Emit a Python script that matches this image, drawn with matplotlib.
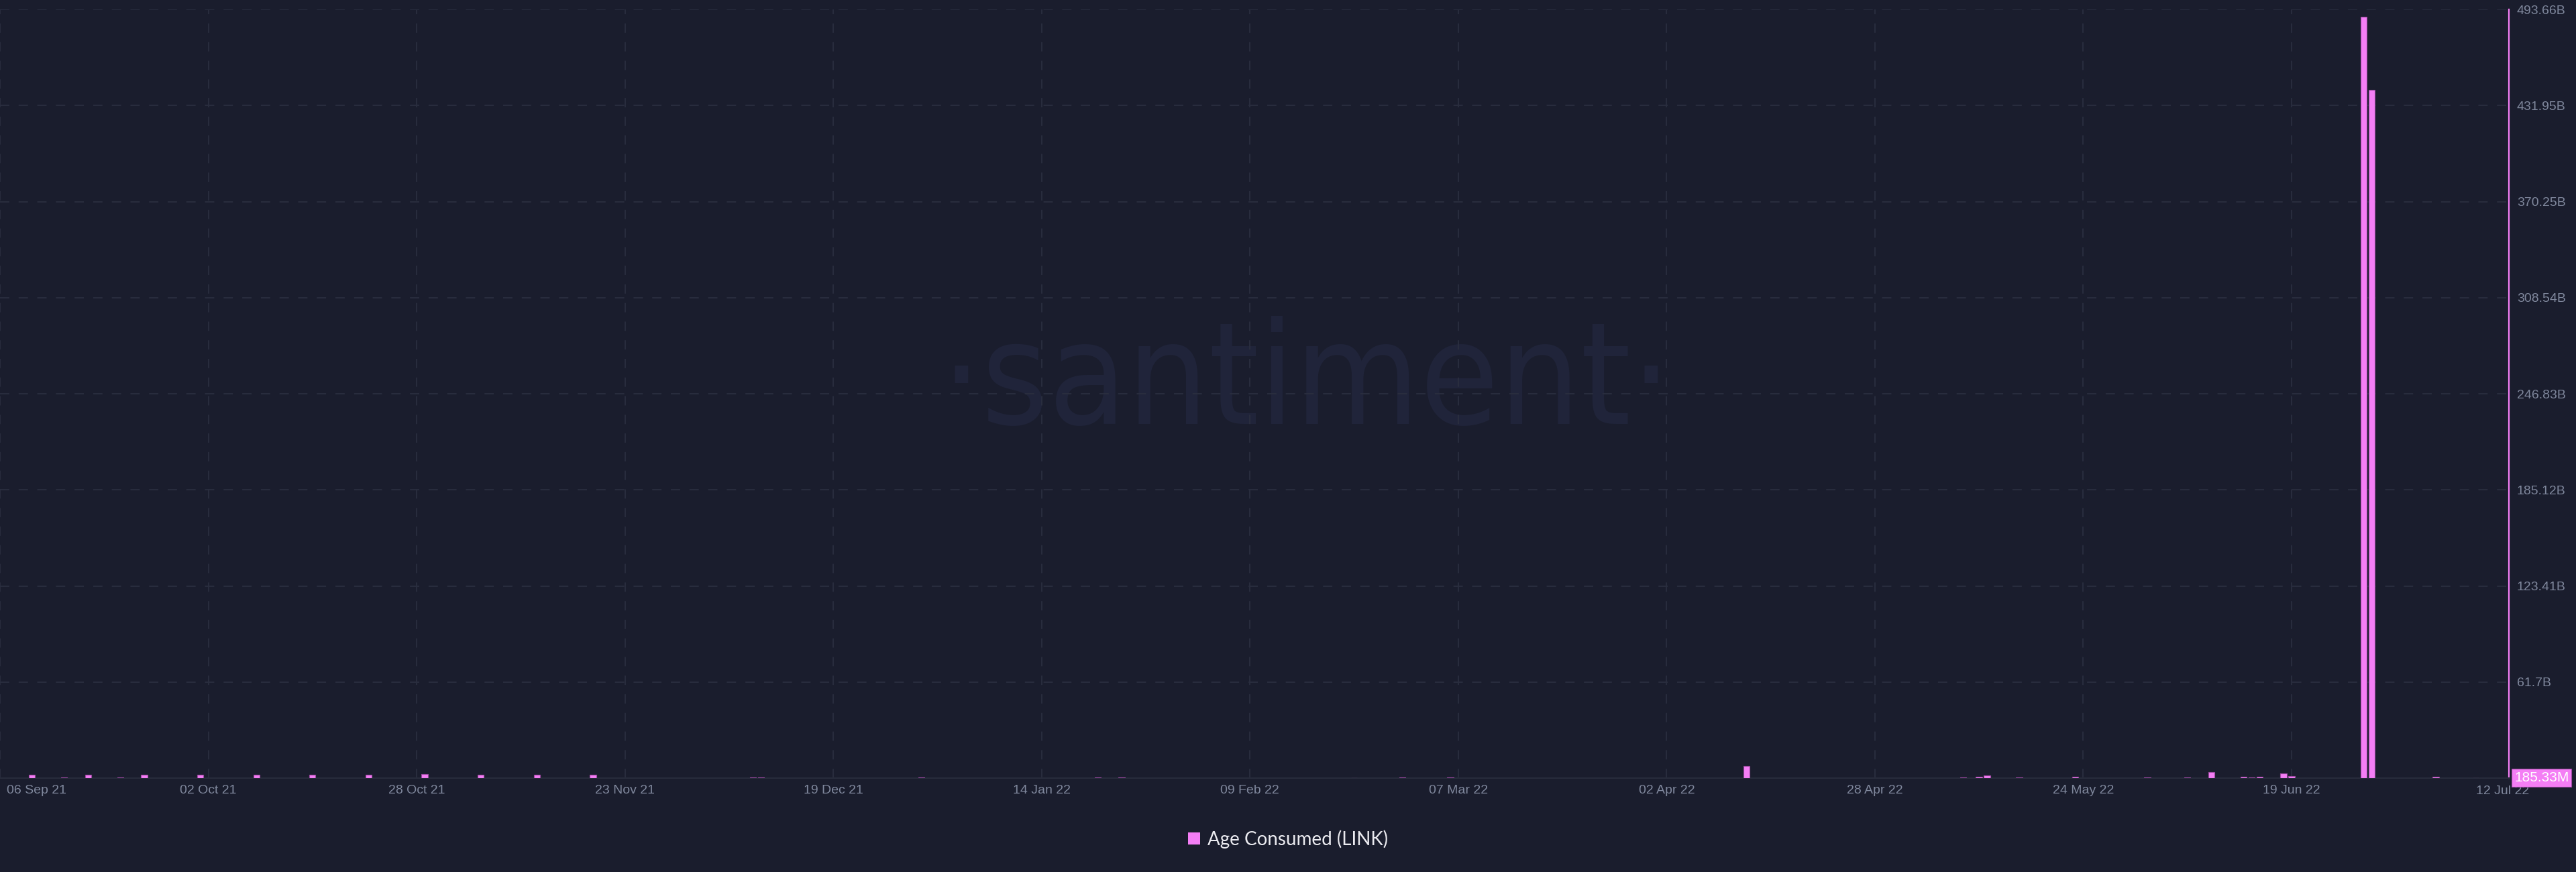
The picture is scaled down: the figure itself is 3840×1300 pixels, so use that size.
import matplotlib
matplotlib.use('Agg')
import matplotlib.pyplot as plt
import matplotlib.transforms as mtransforms
from matplotlib import font_manager
from matplotlib.patches import Patch
import pandas as pd

# Age Consumed (LINK), daily values in billions (only days with a visible bar)
bar_dates = ['2021-09-10', '2021-09-14', '2021-09-17', '2021-09-21', '2021-09-24',
             '2021-10-01', '2021-10-08', '2021-10-15', '2021-10-22', '2021-10-29',
             '2021-11-05', '2021-11-12', '2021-11-19', '2021-12-09', '2021-12-10',
             '2021-12-30', '2022-01-21', '2022-01-24', '2022-02-22', '2022-02-28',
             '2022-03-06', '2022-04-12', '2022-05-09', '2022-05-11', '2022-05-12',
             '2022-05-16', '2022-05-23', '2022-06-01', '2022-06-06', '2022-06-09',
             '2022-06-13', '2022-06-14', '2022-06-15', '2022-06-18', '2022-06-19',
             '2022-06-28', '2022-06-29', '2022-07-07', '2022-07-12']
bar_values = [2.2, 0.4, 2.2, 0.5, 2.2,
              2.2, 2.2, 2.2, 2.2, 2.7,
              2.2, 2.2, 2.2, 0.5, 0.6,
              0.6, 0.3, 0.6, 0.2, 0.3,
              0.3, 7.75, 0.3, 1.0, 1.9,
              0.5, 1.0, 0.3, 0.4, 3.9,
              1.0, 0.3, 1.0, 3.0, 1.1,
              488.8, 441.8, 1.0, 0.185]

y_max = 493.66
y_tick_labels = ['61.7B', '123.41B', '185.12B', '246.83B', '308.54B',
                 '370.25B', '431.95B', '493.66B']
x_tick_labels = ['06 Sep 21', '02 Oct 21', '28 Oct 21', '23 Nov 21', '19 Dec 21',
                 '14 Jan 22', '09 Feb 22', '07 Mar 22', '02 Apr 22', '28 Apr 22',
                 '24 May 22', '19 Jun 22']
end_label = '12 Jul 22'
last_value_label = '185.33M'
series_name = 'Age Consumed (LINK)'

BG = '#1a1d2d'
BAR = '#f47ef5'
EDGE = '#9a4aa0'
GRID = '#2a2e3f'
TXT = '#7f879c'
WM = '#20243a'

plt.rcParams['lines.scale_dashes'] = False

fig = plt.figure(figsize=(38.4, 13), dpi=100, facecolor=BG)
ax = fig.add_axes([0, 1 - 1160 / 1300, 3740 / 3840, 1146 / 1300])
ax.set_facecolor(BG)

dates = pd.to_datetime(bar_dates)
ax.bar(dates, bar_values, width=0.78, color=BAR, edgecolor=EDGE,
       linewidth=0.8, zorder=3)

ax.set_xlim(pd.Timestamp('2021-09-06'), pd.Timestamp('2021-09-06') + pd.Timedelta(days=313.13))
ax.set_ylim(0, y_max)

# x ticks
tick_dates = pd.to_datetime(x_tick_labels, format='%d %b %y')
ax.set_xticks(tick_dates)
ax.set_xticklabels(x_tick_labels, fontsize=14, color=TXT, family='Liberation Sans')
ax.tick_params(axis='x', length=0, pad=7)
first = ax.get_xticklabels()[0]
first.set_horizontalalignment('left')
first.set_transform(first.get_transform() +
                    mtransforms.ScaledTranslation(10 / 100, 0, fig.dpi_scale_trans))

ax.text(0.9975, -0.0095, end_label, transform=ax.transAxes, ha='center', va='top',
        fontsize=14, color=TXT, family='Liberation Sans')

# y ticks on the right
ax.yaxis.tick_right()
ax.set_yticks([y_max * i / 8 for i in range(1, 9)])
ax.set_yticklabels(y_tick_labels, fontsize=14, color=TXT, family='Liberation Sans')
ax.tick_params(axis='y', length=0, pad=8.5)

ax.grid(True, color=GRID, linestyle=(0, (10, 10)), linewidth=1.3)
ax.set_axisbelow(True)

for s in ['top', 'left']:
    ax.spines[s].set_visible(False)
ax.spines['right'].set_color(BAR)
ax.spines['right'].set_linewidth(1.6)
ax.spines['bottom'].set_color('#272b3b')
ax.spines['bottom'].set_linewidth(1.6)

# last value badge
ax.text(1.0022, bar_values[-1], last_value_label,
        transform=mtransforms.blended_transform_factory(ax.transAxes, ax.transData),
        ha='left', va='center', fontsize=15, color='white', family='Liberation Sans',
        bbox=dict(boxstyle='square,pad=0.18', facecolor=BAR, edgecolor=EDGE, linewidth=0.8),
        zorder=5, clip_on=False)

# watermark
wm_font = None
for f in font_manager.fontManager.ttflist:
    if ('Narrow' in f.fname or 'Condensed' in f.fname) and f.weight in (400, 'normal') \
            and f.style == 'normal':
        wm_font = font_manager.FontProperties(fname=f.fname)
        break
if wm_font is None:
    wm_font = font_manager.FontProperties(family='Open Sans')
wm = ax.text(0.5206, (1160 - 632) / 1146, '·santiment·', transform=ax.transAxes,
             ha='center', va='baseline', color=WM, fontproperties=wm_font, zorder=0)
wm.set_fontsize(150)
fig.canvas.draw()
w = wm.get_window_extent().width
wm.set_fontsize(150 * 1090 / w)

fig.legend(handles=[Patch(facecolor=BAR, label=series_name)], loc='center',
           bbox_to_anchor=(0.5, 1 - 1251 / 1300), frameon=False,
           prop={'family': 'Lato', 'size': 20}, labelcolor='#ebebf0',
           handlelength=0.65, handleheight=0.65, handletextpad=0.4)

fig.savefig('out.png', dpi=100, facecolor=BG)
